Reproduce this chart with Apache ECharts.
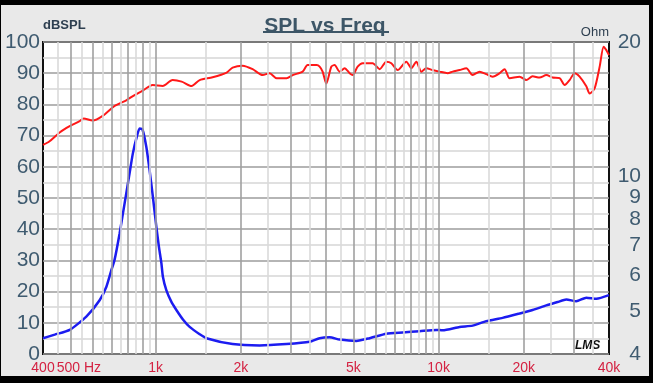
<!DOCTYPE html>
<html><head><meta charset="utf-8">
<script src="https://cdn.jsdelivr.net/npm/echarts@6/dist/echarts.min.js"></script>
<style>html,body{margin:0;padding:0;background:#000;width:653px;height:383px;overflow:hidden}#c{position:absolute;left:1px;top:5px;width:648px;height:371px;}</style>
</head><body><div id="c"></div><script>
// SPL curve (red, left axis dBSPL)
const splFreq = [400,422,458,497,539,557,599,650,716,790,843,900,976,1059,1148,1236,1340,1431,1590,1782,1871,2030,2202,2388,2528,2677,2903,3049,3307,3444,3707,3798,3892,4011,4177,4291,4469,4655,4848,4968,5174,5389,5846,6189,6535,6807,7165,7689,8008,8340,8687,9047,9524,10080,10760,11210,11860,12530,13190,13960,14740,15520,16430,17110,17820,19330,20410,21480,22740,24020,25280,26770,27880,29030,30240,31490,33260,34160,35580,37070,38290,39140,40000];
const splDb = [67.0,68.2,71.0,73.0,74.6,75.5,74.8,76.3,79.5,81.4,83.0,84.4,86.2,85.9,87.8,87.3,85.9,87.8,88.7,90.2,91.8,92.4,91.3,89.4,90.0,88.4,88.4,89.4,90.5,92.6,92.6,92.1,90.5,86.7,92.1,92.6,90.5,91.6,90.0,89.4,92.1,93.2,93.2,91.3,93.7,93.2,91.0,93.7,91.6,93.7,90.5,91.6,91.0,90.5,90.0,90.5,91.0,91.6,89.4,90.5,89.7,88.9,90.0,91.3,88.4,88.9,87.8,89.0,88.6,89.4,88.6,88.4,86.2,87.8,90.0,88.9,85.8,83.5,85.1,92.1,98.5,97.4,95.8];
// Impedance curve (blue, right axis Ohm)
const impFreq = [400,440,497,569,634,670,698,716,746,777,809,831,855,878,898,927,952,978,1006,1027,1048,1061,1091,1136,1184,1249,1319,1431,1511,1871,2331,2896,3501,3798,4120,4469,5119,5705,6535,7460,8567,9815,10330,11860,13190,14740,16830,19330,21480,24020,26330,28260,30660,33260,36080,40000];
const impOhm = [4.34,4.42,4.53,4.85,5.28,5.66,6.17,6.5,7.45,8.7,10.16,11.26,12.17,12.8,12.75,11.65,10.33,9.0,7.71,6.96,6.39,5.96,5.56,5.24,5.02,4.78,4.6,4.43,4.34,4.21,4.18,4.21,4.26,4.34,4.36,4.31,4.28,4.34,4.44,4.47,4.5,4.53,4.52,4.6,4.63,4.74,4.82,4.93,5.02,5.14,5.23,5.3,5.25,5.35,5.32,5.42];
// Axis ticks
const xTickValues = [400,500,1000,2000,5000,10000,20000,40000];
const xTickLabels = ['400','500 Hz','1k','2k','5k','10k','20k','40k'];
const ohmTicks = [4,5,6,7,8,9,10,20];
const gridMajorFreq = [500,600,700,800,900,1000,2000,3000,4000,5000,6000,7000,8000,9000,10000,20000,30000];
const gridMinorFreq = [450,550,650,750,850,950,1500,2500,3500,4500,5500,6500,7500,8500,9500,15000,25000,35000];

const FONT = "'Liberation Sans', Arial, sans-serif";
const slate = '#3f5b70';
const chart = echarts.init(document.getElementById('c'), null, {renderer:'canvas'});
const pair = (xs, ys) => xs.map((x, i) => [x, ys[i]]);
const vline = (fs) => fs.map(f => ({xAxis: f}));

chart.setOption({
  animation: false,
  backgroundColor: '#e9e9e9',
  title: {
    text: 'SPL vs Freq', left: 'center', top: 6,
    textStyle: {fontFamily: FONT, fontSize: 21, fontWeight: 'bold', color: '#3d5667'}
  },
  grid: {left: 42, top: 37, right: 40, bottom: 22, show: true, backgroundColor: '#fff', borderColor: '#111', borderWidth: 2, containLabel: false},
  xAxis: {
    type: 'log', logBase: 10, min: 400, max: 40000,
    axisLine: {show: false}, axisTick: {show: false}, splitLine: {show: false},
    axisLabel: {
      customValues: xTickValues, margin: 7,
      color: '#d42242', fontFamily: FONT, fontSize: 14,
      formatter: function (v) {
        const i = xTickValues.findIndex(t => Math.abs(t - v) / t < 1e-3);
        if (i < 0) return '';
        if (xTickLabels[i].indexOf('Hz') >= 0) return '{h|' + xTickLabels[i] + '}';
        return xTickLabels[i];
      },
      rich: {h: {color: '#d42242', fontFamily: FONT, fontSize: 14, padding: [0, 0, 0, 17]}}
    }
  },
  yAxis: [{
    type: 'value', min: 0, max: 100, interval: 10,
    name: 'dBSPL', nameLocation: 'end', nameGap: 3,
    nameTextStyle: {align: 'left', verticalAlign: 'bottom', fontFamily: FONT, fontSize: 13, fontWeight: 'bold', color: '#2e3f50', padding: [0,0,0,0]},
    axisLine: {show: false}, axisTick: {show: false},
    axisLabel: {margin: 3, color: slate, fontFamily: FONT, fontSize: 21},
    splitLine: {lineStyle: {color: '#9c9c9c', width: 1.6}},
    minorTick: {show: false, splitNumber: 2},
    minorSplitLine: {show: true, lineStyle: {color: '#d6d6d6', width: 1.6}}
  }, {
    type: 'log', logBase: 10, min: 4, max: 20, position: 'right',
    name: 'Ohm', nameLocation: 'end', nameGap: 3,
    nameTextStyle: {align: 'right', verticalAlign: 'bottom', fontFamily: FONT, fontSize: 13, color: '#2e3f50'},
    axisLine: {show: false}, axisTick: {show: false}, splitLine: {show: false},
    axisLabel: {customValues: ohmTicks, margin: 32, align: 'right', color: slate, fontFamily: FONT, fontSize: 21}
  }],
  series: [{
    type: 'scatter', z: 1, silent: true, symbolSize: 0, data: [[1000, 50]],
    markLine: {silent: true, symbol: 'none', label: {show: false}, animation: false,
      lineStyle: {type: 'solid', color: '#dadada', width: 1.6}, data: vline(gridMinorFreq)}
  }, {
    type: 'scatter', z: 1, silent: true, symbolSize: 0, data: [[1000, 50]],
    markLine: {silent: true, symbol: 'none', label: {show: false}, animation: false,
      lineStyle: {type: 'solid', color: '#a0a0a0', width: 1.6}, data: vline(gridMajorFreq)}
  }, {
    name: 'SPL', type: 'line', z: 3, yAxisIndex: 0, showSymbol: false, smooth: 0.25,
    lineStyle: {color: '#ff1818', width: 2}, data: pair(splFreq, splDb)
  }, {
    name: 'Impedance', type: 'line', z: 3, yAxisIndex: 1, showSymbol: false, smooth: 0.2,
    lineStyle: {color: '#1c1cf0', width: 2.5}, data: pair(impFreq, impOhm)
  }],
  graphic: [
    {type: 'line', shape: {x1: 262, y1: 27, x2: 388, y2: 27}, style: {stroke: '#3d5667', lineWidth: 2}},
    {type: 'text', x: 574, y: 335, style: {text: 'LMS', font: 'italic bold 12px ' + FONT, fill: '#111'}}
  ]
});
</script></body></html>
